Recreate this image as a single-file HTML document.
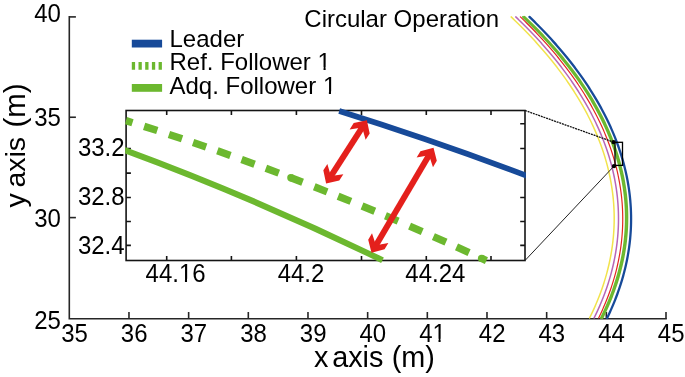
<!DOCTYPE html>
<html><head><meta charset="utf-8"><title>Circular Operation</title>
<style>html,body{margin:0;padding:0;background:#fff;}body{width:685px;height:377px;overflow:hidden;position:relative;}</style>
</head><body>
<svg width="685" height="377" viewBox="0 0 685 377" style="position:absolute;left:0;top:0">
<defs>
<clipPath id="cm"><rect x="0" y="0" width="685" height="319.6"/></clipPath>
<clipPath id="ci"><rect x="125.19999999999999" y="0" width="400.7" height="377"/></clipPath>
</defs>
<rect width="100%" height="100%" fill="#fff"/>
<g stroke="#262626" stroke-width="1.6" fill="none">
<path d="M69.3,15.999999999999998 V318.8 H666.8"/>
<path d="M128.97,318.8 V312.0"/>
<path d="M188.64,318.8 V312.0"/>
<path d="M248.31,318.8 V312.0"/>
<path d="M307.98,318.8 V312.0"/>
<path d="M367.65,318.8 V312.0"/>
<path d="M427.32,318.8 V312.0"/>
<path d="M486.99,318.8 V312.0"/>
<path d="M546.66,318.8 V312.0"/>
<path d="M606.33,318.8 V312.0"/>
<path d="M666.00,318.8 V312.0"/>
<path d="M69.3,16.90 H75.9"/>
<path d="M69.3,117.25 H75.9"/>
<path d="M69.3,217.60 H75.9"/>
</g>
<g clip-path="url(#cm)" fill="none" stroke-linecap="round">
<path d="M511.16,16.90 L512.74,18.41 L514.32,19.93 L515.88,21.44 L517.43,22.95 L518.96,24.46 L520.48,25.98 L521.99,27.49 L523.48,29.00 L524.96,30.52 L526.43,32.03 L527.89,33.54 L529.33,35.05 L530.76,36.57 L532.17,38.08 L533.58,39.59 L534.96,41.11 L536.34,42.62 L537.71,44.13 L539.06,45.64 L540.39,47.16 L541.72,48.67 L543.03,50.18 L544.33,51.69 L545.62,53.21 L546.89,54.72 L548.16,56.23 L549.41,57.75 L550.64,59.26 L551.87,60.77 L553.08,62.28 L554.28,63.80 L555.46,65.31 L556.64,66.82 L557.80,68.34 L558.95,69.85 L560.09,71.36 L561.21,72.87 L562.32,74.39 L563.42,75.90 L564.51,77.41 L565.58,78.93 L566.65,80.44 L567.70,81.95 L568.74,83.46 L569.76,84.98 L570.78,86.49 L571.78,88.00 L572.77,89.52 L573.75,91.03 L574.71,92.54 L575.67,94.05 L576.61,95.57 L577.54,97.08 L578.46,98.59 L579.36,100.10 L580.25,101.62 L581.14,103.13 L582.01,104.64 L582.86,106.16 L583.71,107.67 L584.54,109.18 L585.37,110.69 L586.18,112.21 L586.98,113.72 L587.76,115.23 L588.54,116.75 L589.30,118.26 L590.05,119.77 L590.79,121.28 L591.52,122.80 L592.24,124.31 L592.94,125.82 L593.63,127.34 L594.31,128.85 L594.98,130.36 L595.64,131.87 L596.29,133.39 L596.92,134.90 L597.55,136.41 L598.16,137.93 L598.76,139.44 L599.35,140.95 L599.92,142.46 L600.49,143.98 L601.04,145.49 L601.58,147.00 L602.11,148.51 L602.63,150.03 L603.14,151.54 L603.64,153.05 L604.12,154.57 L604.59,156.08 L605.05,157.59 L605.50,159.10 L605.94,160.62 L606.37,162.13 L606.79,163.64 L607.19,165.16 L607.58,166.67 L607.97,168.18 L608.34,169.69 L608.69,171.21 L609.04,172.72 L609.38,174.23 L609.70,175.75 L610.02,177.26 L610.32,178.77 L610.61,180.28 L610.89,181.80 L611.16,183.31 L611.41,184.82 L611.66,186.34 L611.89,187.85 L612.11,189.36 L612.32,190.87 L612.52,192.39 L612.71,193.90 L612.89,195.41 L613.06,196.92 L613.21,198.44 L613.35,199.95 L613.49,201.46 L613.61,202.98 L613.72,204.49 L613.81,206.00 L613.90,207.51 L613.98,209.03 L614.04,210.54 L614.09,212.05 L614.14,213.57 L614.17,215.08 L614.19,216.59 L614.19,218.10 L614.19,219.62 L614.18,221.13 L614.15,222.64 L614.11,224.16 L614.06,225.67 L614.01,227.18 L613.93,228.69 L613.85,230.21 L613.76,231.72 L613.65,233.23 L613.54,234.75 L613.41,236.26 L613.27,237.77 L613.12,239.28 L612.96,240.80 L612.79,242.31 L612.60,243.82 L612.41,245.33 L612.20,246.85 L611.98,248.36 L611.75,249.87 L611.51,251.39 L611.26,252.90 L611.00,254.41 L610.72,255.92 L610.44,257.44 L610.14,258.95 L609.83,260.46 L609.51,261.98 L609.18,263.49 L608.84,265.00 L608.48,266.51 L608.12,268.03 L607.74,269.54 L607.35,271.05 L606.95,272.57 L606.54,274.08 L606.12,275.59 L605.68,277.10 L605.24,278.62 L604.78,280.13 L604.31,281.64 L603.83,283.16 L603.34,284.67 L602.84,286.18 L602.33,287.69 L601.80,289.21 L601.26,290.72 L600.71,292.23 L600.15,293.74 L599.58,295.26 L599.00,296.77 L598.40,298.28 L597.80,299.80 L597.18,301.31 L596.55,302.82 L595.91,304.33 L595.25,305.85 L594.59,307.36 L593.91,308.87 L593.22,310.39 L592.52,311.90 L591.81,313.41 L591.09,314.92 L590.36,316.44 L589.61,317.95" stroke="#f2e34c" stroke-width="1.5"/>
<path d="M515.79,16.90 L517.37,18.41 L518.94,19.93 L520.49,21.44 L522.03,22.95 L523.56,24.46 L525.07,25.98 L526.57,27.49 L528.06,29.00 L529.53,30.52 L531.00,32.03 L532.44,33.54 L533.88,35.05 L535.30,36.57 L536.71,38.08 L538.11,39.59 L539.49,41.11 L540.86,42.62 L542.22,44.13 L543.57,45.64 L544.90,47.16 L546.22,48.67 L547.53,50.18 L548.82,51.69 L550.10,53.21 L551.37,54.72 L552.63,56.23 L553.87,57.75 L555.11,59.26 L556.32,60.77 L557.53,62.28 L558.73,63.80 L559.91,65.31 L561.08,66.82 L562.23,68.34 L563.38,69.85 L564.51,71.36 L565.63,72.87 L566.74,74.39 L567.84,75.90 L568.92,77.41 L569.99,78.93 L571.05,80.44 L572.10,81.95 L573.13,83.46 L574.15,84.98 L575.16,86.49 L576.16,88.00 L577.15,89.52 L578.12,91.03 L579.08,92.54 L580.03,94.05 L580.97,95.57 L581.90,97.08 L582.81,98.59 L583.72,100.10 L584.61,101.62 L585.49,103.13 L586.35,104.64 L587.21,106.16 L588.05,107.67 L588.88,109.18 L589.70,110.69 L590.51,112.21 L591.31,113.72 L592.09,115.23 L592.86,116.75 L593.62,118.26 L594.37,119.77 L595.11,121.28 L595.84,122.80 L596.55,124.31 L597.25,125.82 L597.94,127.34 L598.62,128.85 L599.29,130.36 L599.95,131.87 L600.59,133.39 L601.22,134.90 L601.84,136.41 L602.45,137.93 L603.05,139.44 L603.64,140.95 L604.21,142.46 L604.78,143.98 L605.33,145.49 L605.87,147.00 L606.40,148.51 L606.92,150.03 L607.43,151.54 L607.92,153.05 L608.40,154.57 L608.88,156.08 L609.34,157.59 L609.79,159.10 L610.22,160.62 L610.65,162.13 L611.07,163.64 L611.47,165.16 L611.86,166.67 L612.24,168.18 L612.61,169.69 L612.97,171.21 L613.32,172.72 L613.65,174.23 L613.98,175.75 L614.29,177.26 L614.59,178.77 L614.88,180.28 L615.16,181.80 L615.43,183.31 L615.69,184.82 L615.93,186.34 L616.17,187.85 L616.39,189.36 L616.60,190.87 L616.80,192.39 L616.99,193.90 L617.17,195.41 L617.34,196.92 L617.49,198.44 L617.64,199.95 L617.77,201.46 L617.89,202.98 L618.00,204.49 L618.10,206.00 L618.19,207.51 L618.27,209.03 L618.33,210.54 L618.39,212.05 L618.43,213.57 L618.46,215.08 L618.48,216.59 L618.49,218.10 L618.49,219.62 L618.48,221.13 L618.45,222.64 L618.42,224.16 L618.37,225.67 L618.31,227.18 L618.24,228.69 L618.16,230.21 L618.07,231.72 L617.97,233.23 L617.85,234.75 L617.73,236.26 L617.59,237.77 L617.44,239.28 L617.28,240.80 L617.11,242.31 L616.93,243.82 L616.74,245.33 L616.53,246.85 L616.32,248.36 L616.09,249.87 L615.85,251.39 L615.61,252.90 L615.35,254.41 L615.07,255.92 L614.79,257.44 L614.50,258.95 L614.19,260.46 L613.87,261.98 L613.55,263.49 L613.21,265.00 L612.85,266.51 L612.49,268.03 L612.12,269.54 L611.73,271.05 L611.34,272.57 L610.93,274.08 L610.51,275.59 L610.08,277.10 L609.64,278.62 L609.19,280.13 L608.72,281.64 L608.25,283.16 L607.76,284.67 L607.26,286.18 L606.75,287.69 L606.23,289.21 L605.69,290.72 L605.15,292.23 L604.59,293.74 L604.03,295.26 L603.45,296.77 L602.86,298.28 L602.26,299.80 L601.64,301.31 L601.02,302.82 L600.38,304.33 L599.73,305.85 L599.07,307.36 L598.40,308.87 L597.72,310.39 L597.02,311.90 L596.32,313.41 L595.60,314.92 L594.87,316.44 L594.13,317.95" stroke="#b766b7" stroke-width="1.5"/>
<path d="M520.40,16.90 L521.97,18.41 L523.53,19.93 L525.07,21.44 L526.61,22.95 L528.13,24.46 L529.63,25.98 L531.13,27.49 L532.61,29.00 L534.07,30.52 L535.53,32.03 L536.97,33.54 L538.40,35.05 L539.81,36.57 L541.22,38.08 L542.61,39.59 L543.98,41.11 L545.35,42.62 L546.70,44.13 L548.04,45.64 L549.37,47.16 L550.68,48.67 L551.98,50.18 L553.27,51.69 L554.54,53.21 L555.81,54.72 L557.06,56.23 L558.30,57.75 L559.52,59.26 L560.74,60.77 L561.94,62.28 L563.13,63.80 L564.30,65.31 L565.47,66.82 L566.62,68.34 L567.76,69.85 L568.89,71.36 L570.00,72.87 L571.11,74.39 L572.20,75.90 L573.28,77.41 L574.34,78.93 L575.40,80.44 L576.44,81.95 L577.47,83.46 L578.49,84.98 L579.49,86.49 L580.49,88.00 L581.47,89.52 L582.44,91.03 L583.40,92.54 L584.35,94.05 L585.28,95.57 L586.20,97.08 L587.11,98.59 L588.01,100.10 L588.90,101.62 L589.78,103.13 L590.64,104.64 L591.49,106.16 L592.33,107.67 L593.16,109.18 L593.98,110.69 L594.78,112.21 L595.58,113.72 L596.36,115.23 L597.13,116.75 L597.89,118.26 L598.63,119.77 L599.37,121.28 L600.09,122.80 L600.80,124.31 L601.50,125.82 L602.19,127.34 L602.87,128.85 L603.53,130.36 L604.19,131.87 L604.83,133.39 L605.46,134.90 L606.08,136.41 L606.69,137.93 L607.29,139.44 L607.87,140.95 L608.44,142.46 L609.01,143.98 L609.56,145.49 L610.10,147.00 L610.63,148.51 L611.14,150.03 L611.65,151.54 L612.14,153.05 L612.62,154.57 L613.10,156.08 L613.56,157.59 L614.00,159.10 L614.44,160.62 L614.87,162.13 L615.28,163.64 L615.69,165.16 L616.08,166.67 L616.46,168.18 L616.83,169.69 L617.19,171.21 L617.53,172.72 L617.87,174.23 L618.19,175.75 L618.51,177.26 L618.81,178.77 L619.10,180.28 L619.38,181.80 L619.65,183.31 L619.91,184.82 L620.15,186.34 L620.39,187.85 L620.61,189.36 L620.82,190.87 L621.02,192.39 L621.21,193.90 L621.39,195.41 L621.56,196.92 L621.72,198.44 L621.86,199.95 L621.99,201.46 L622.12,202.98 L622.23,204.49 L622.33,206.00 L622.42,207.51 L622.50,209.03 L622.56,210.54 L622.62,212.05 L622.66,213.57 L622.70,215.08 L622.72,216.59 L622.73,218.10 L622.73,219.62 L622.72,221.13 L622.70,222.64 L622.67,224.16 L622.62,225.67 L622.56,227.18 L622.50,228.69 L622.42,230.21 L622.33,231.72 L622.23,233.23 L622.12,234.75 L622.00,236.26 L621.86,237.77 L621.72,239.28 L621.56,240.80 L621.39,242.31 L621.21,243.82 L621.02,245.33 L620.82,246.85 L620.61,248.36 L620.39,249.87 L620.15,251.39 L619.91,252.90 L619.65,254.41 L619.38,255.92 L619.10,257.44 L618.81,258.95 L618.51,260.46 L618.20,261.98 L617.87,263.49 L617.54,265.00 L617.19,266.51 L616.83,268.03 L616.46,269.54 L616.08,271.05 L615.69,272.57 L615.29,274.08 L614.87,275.59 L614.45,277.10 L614.01,278.62 L613.56,280.13 L613.10,281.64 L612.63,283.16 L612.15,284.67 L611.65,286.18 L611.15,287.69 L610.63,289.21 L610.10,290.72 L609.56,292.23 L609.01,293.74 L608.45,295.26 L607.88,296.77 L607.29,298.28 L606.70,299.80 L606.09,301.31 L605.47,302.82 L604.84,304.33 L604.19,305.85 L603.54,307.36 L602.87,308.87 L602.20,310.39 L601.51,311.90 L600.81,313.41 L600.10,314.92 L599.37,316.44 L598.64,317.95" stroke="#e5251f" stroke-width="1.2"/>
<path d="M523.06,16.90 L524.65,18.41 L526.22,19.93 L527.78,21.44 L529.33,22.95 L530.87,24.46 L532.39,25.98 L533.90,27.49 L535.39,29.00 L536.88,30.52 L538.34,32.03 L539.80,33.54 L541.24,35.05 L542.67,36.57 L544.09,38.08 L545.49,39.59 L546.88,41.11 L548.26,42.62 L549.62,44.13 L550.98,45.64 L552.31,47.16 L553.64,48.67 L554.95,50.18 L556.25,51.69 L557.54,53.21 L558.82,54.72 L560.08,56.23 L561.33,57.75 L562.56,59.26 L563.79,60.77 L565.00,62.28 L566.20,63.80 L567.39,65.31 L568.56,66.82 L569.72,68.34 L570.87,69.85 L572.01,71.36 L573.13,72.87 L574.24,74.39 L575.34,75.90 L576.43,77.41 L577.50,78.93 L578.57,80.44 L579.62,81.95 L580.65,83.46 L581.68,84.98 L582.69,86.49 L583.69,88.00 L584.68,89.52 L585.66,91.03 L586.63,92.54 L587.58,94.05 L588.52,95.57 L589.45,97.08 L590.36,98.59 L591.27,100.10 L592.16,101.62 L593.04,103.13 L593.91,104.64 L594.77,106.16 L595.61,107.67 L596.44,109.18 L597.26,110.69 L598.07,112.21 L598.87,113.72 L599.66,115.23 L600.43,116.75 L601.19,118.26 L601.94,119.77 L602.68,121.28 L603.41,122.80 L604.12,124.31 L604.82,125.82 L605.51,127.34 L606.19,128.85 L606.86,130.36 L607.52,131.87 L608.16,133.39 L608.79,134.90 L609.41,136.41 L610.02,137.93 L610.62,139.44 L611.21,140.95 L611.78,142.46 L612.34,143.98 L612.90,145.49 L613.43,147.00 L613.96,148.51 L614.48,150.03 L614.98,151.54 L615.48,153.05 L615.96,154.57 L616.43,156.08 L616.89,157.59 L617.34,159.10 L617.77,160.62 L618.20,162.13 L618.61,163.64 L619.01,165.16 L619.40,166.67 L619.78,168.18 L620.15,169.69 L620.50,171.21 L620.85,172.72 L621.18,174.23 L621.50,175.75 L621.81,177.26 L622.11,178.77 L622.40,180.28 L622.67,181.80 L622.94,183.31 L623.19,184.82 L623.43,186.34 L623.66,187.85 L623.88,189.36 L624.09,190.87 L624.29,192.39 L624.47,193.90 L624.65,195.41 L624.81,196.92 L624.96,198.44 L625.10,199.95 L625.23,201.46 L625.34,202.98 L625.45,204.49 L625.54,206.00 L625.63,207.51 L625.70,209.03 L625.76,210.54 L625.81,212.05 L625.84,213.57 L625.87,215.08 L625.89,216.59 L625.89,218.10 L625.88,219.62 L625.86,221.13 L625.83,222.64 L625.79,224.16 L625.74,225.67 L625.67,227.18 L625.60,228.69 L625.51,230.21 L625.41,231.72 L625.30,233.23 L625.18,234.75 L625.05,236.26 L624.91,237.77 L624.75,239.28 L624.59,240.80 L624.41,242.31 L624.22,243.82 L624.02,245.33 L623.81,246.85 L623.58,248.36 L623.35,249.87 L623.10,251.39 L622.85,252.90 L622.58,254.41 L622.30,255.92 L622.01,257.44 L621.70,258.95 L621.39,260.46 L621.06,261.98 L620.73,263.49 L620.38,265.00 L620.02,266.51 L619.65,268.03 L619.27,269.54 L618.87,271.05 L618.47,272.57 L618.05,274.08 L617.62,275.59 L617.18,277.10 L616.73,278.62 L616.27,280.13 L615.79,281.64 L615.30,283.16 L614.81,284.67 L614.30,286.18 L613.78,287.69 L613.25,289.21 L612.70,290.72 L612.15,292.23 L611.58,293.74 L611.00,295.26 L610.41,296.77 L609.81,298.28 L609.20,299.80 L608.57,301.31 L607.93,302.82 L607.29,304.33 L606.63,305.85 L605.95,307.36 L605.27,308.87 L604.58,310.39 L603.87,311.90 L603.15,313.41 L602.42,314.92 L601.68,316.44 L600.92,317.95" stroke="#6cb82f" stroke-width="2.0"/>
<path d="M524.58,16.90 L526.16,18.41 L527.74,19.93 L529.30,21.44 L530.85,22.95 L532.38,24.46 L533.90,25.98 L535.41,27.49 L536.90,29.00 L538.38,30.52 L539.85,32.03 L541.30,33.54 L542.75,35.05 L544.17,36.57 L545.59,38.08 L546.99,39.59 L548.38,41.11 L549.76,42.62 L551.12,44.13 L552.47,45.64 L553.81,47.16 L555.13,48.67 L556.44,50.18 L557.74,51.69 L559.03,53.21 L560.30,54.72 L561.56,56.23 L562.81,57.75 L564.05,59.26 L565.27,60.77 L566.48,62.28 L567.68,63.80 L568.87,65.31 L570.04,66.82 L571.20,68.34 L572.35,69.85 L573.48,71.36 L574.61,72.87 L575.72,74.39 L576.82,75.90 L577.90,77.41 L578.98,78.93 L580.04,80.44 L581.09,81.95 L582.12,83.46 L583.15,84.98 L584.16,86.49 L585.16,88.00 L586.15,89.52 L587.13,91.03 L588.09,92.54 L589.04,94.05 L589.98,95.57 L590.91,97.08 L591.82,98.59 L592.73,100.10 L593.62,101.62 L594.50,103.13 L595.37,104.64 L596.22,106.16 L597.07,107.67 L597.90,109.18 L598.72,110.69 L599.53,112.21 L600.33,113.72 L601.11,115.23 L601.88,116.75 L602.64,118.26 L603.39,119.77 L604.13,121.28 L604.86,122.80 L605.57,124.31 L606.27,125.82 L606.96,127.34 L607.64,128.85 L608.31,130.36 L608.96,131.87 L609.61,133.39 L610.24,134.90 L610.86,136.41 L611.47,137.93 L612.07,139.44 L612.65,140.95 L613.22,142.46 L613.79,143.98 L614.34,145.49 L614.88,147.00 L615.40,148.51 L615.92,150.03 L616.43,151.54 L616.92,153.05 L617.40,154.57 L617.87,156.08 L618.33,157.59 L618.78,159.10 L619.21,160.62 L619.64,162.13 L620.05,163.64 L620.45,165.16 L620.84,166.67 L621.22,168.18 L621.58,169.69 L621.94,171.21 L622.28,172.72 L622.62,174.23 L622.94,175.75 L623.25,177.26 L623.55,178.77 L623.83,180.28 L624.11,181.80 L624.37,183.31 L624.63,184.82 L624.87,186.34 L625.10,187.85 L625.32,189.36 L625.52,190.87 L625.72,192.39 L625.91,193.90 L626.08,195.41 L626.24,196.92 L626.39,198.44 L626.53,199.95 L626.66,201.46 L626.78,202.98 L626.88,204.49 L626.98,206.00 L627.06,207.51 L627.13,209.03 L627.19,210.54 L627.24,212.05 L627.28,213.57 L627.30,215.08 L627.32,216.59 L627.32,218.10 L627.31,219.62 L627.30,221.13 L627.26,222.64 L627.22,224.16 L627.17,225.67 L627.11,227.18 L627.03,228.69 L626.94,230.21 L626.85,231.72 L626.74,233.23 L626.62,234.75 L626.48,236.26 L626.34,237.77 L626.18,239.28 L626.02,240.80 L625.84,242.31 L625.65,243.82 L625.45,245.33 L625.24,246.85 L625.02,248.36 L624.78,249.87 L624.54,251.39 L624.28,252.90 L624.01,254.41 L623.73,255.92 L623.44,257.44 L623.14,258.95 L622.83,260.46 L622.50,261.98 L622.16,263.49 L621.82,265.00 L621.46,266.51 L621.08,268.03 L620.70,269.54 L620.31,271.05 L619.90,272.57 L619.49,274.08 L619.06,275.59 L618.62,277.10 L618.17,278.62 L617.71,280.13 L617.23,281.64 L616.75,283.16 L616.25,284.67 L615.74,286.18 L615.22,287.69 L614.69,289.21 L614.14,290.72 L613.59,292.23 L613.02,293.74 L612.45,295.26 L611.86,296.77 L611.25,298.28 L610.64,299.80 L610.02,301.31 L609.38,302.82 L608.73,304.33 L608.07,305.85 L607.40,307.36 L606.72,308.87 L606.02,310.39 L605.32,311.90 L604.60,313.41 L603.87,314.92 L603.13,316.44 L602.38,317.95" stroke="#6cb82f" stroke-width="2.0"/>
<path d="M529.50,16.90 L531.06,18.41 L532.61,19.93 L534.15,21.44 L535.67,22.95 L537.17,24.46 L538.67,25.98 L540.15,27.49 L541.62,29.00 L543.08,30.52 L544.52,32.03 L545.95,33.54 L547.37,35.05 L548.77,36.57 L550.17,38.08 L551.55,39.59 L552.91,41.11 L554.27,42.62 L555.61,44.13 L556.94,45.64 L558.25,47.16 L559.56,48.67 L560.85,50.18 L562.13,51.69 L563.39,53.21 L564.65,54.72 L565.89,56.23 L567.12,57.75 L568.34,59.26 L569.54,60.77 L570.73,62.28 L571.91,63.80 L573.08,65.31 L574.24,66.82 L575.38,68.34 L576.51,69.85 L577.63,71.36 L578.74,72.87 L579.83,74.39 L580.92,75.90 L581.99,77.41 L583.05,78.93 L584.09,80.44 L585.13,81.95 L586.15,83.46 L587.16,84.98 L588.16,86.49 L589.15,88.00 L590.12,89.52 L591.09,91.03 L592.04,92.54 L592.98,94.05 L593.91,95.57 L594.82,97.08 L595.73,98.59 L596.62,100.10 L597.50,101.62 L598.37,103.13 L599.23,104.64 L600.07,106.16 L600.91,107.67 L601.73,109.18 L602.54,110.69 L603.34,112.21 L604.13,113.72 L604.90,115.23 L605.67,116.75 L606.42,118.26 L607.16,119.77 L607.89,121.28 L608.61,122.80 L609.32,124.31 L610.01,125.82 L610.69,127.34 L611.37,128.85 L612.03,130.36 L612.68,131.87 L613.31,133.39 L613.94,134.90 L614.56,136.41 L615.16,137.93 L615.75,139.44 L616.33,140.95 L616.90,142.46 L617.46,143.98 L618.01,145.49 L618.54,147.00 L619.07,148.51 L619.58,150.03 L620.08,151.54 L620.57,153.05 L621.05,154.57 L621.52,156.08 L621.98,157.59 L622.42,159.10 L622.86,160.62 L623.28,162.13 L623.69,163.64 L624.09,165.16 L624.48,166.67 L624.86,168.18 L625.23,169.69 L625.58,171.21 L625.93,172.72 L626.26,174.23 L626.58,175.75 L626.89,177.26 L627.19,178.77 L627.48,180.28 L627.76,181.80 L628.02,183.31 L628.28,184.82 L628.52,186.34 L628.76,187.85 L628.98,189.36 L629.19,190.87 L629.39,192.39 L629.58,193.90 L629.75,195.41 L629.92,196.92 L630.07,198.44 L630.22,199.95 L630.35,201.46 L630.47,202.98 L630.58,204.49 L630.68,206.00 L630.77,207.51 L630.85,209.03 L630.91,210.54 L630.97,212.05 L631.01,213.57 L631.05,215.08 L631.07,216.59 L631.08,218.10 L631.08,219.62 L631.07,221.13 L631.05,222.64 L631.01,224.16 L630.97,225.67 L630.91,227.18 L630.85,228.69 L630.77,230.21 L630.68,231.72 L630.58,233.23 L630.47,234.75 L630.35,236.26 L630.21,237.77 L630.07,239.28 L629.91,240.80 L629.75,242.31 L629.57,243.82 L629.38,245.33 L629.18,246.85 L628.97,248.36 L628.75,249.87 L628.51,251.39 L628.27,252.90 L628.01,254.41 L627.75,255.92 L627.47,257.44 L627.18,258.95 L626.88,260.46 L626.57,261.98 L626.24,263.49 L625.91,265.00 L625.57,266.51 L625.21,268.03 L624.84,269.54 L624.46,271.05 L624.07,272.57 L623.67,274.08 L623.26,275.59 L622.84,277.10 L622.40,278.62 L621.96,280.13 L621.50,281.64 L621.03,283.16 L620.55,284.67 L620.06,286.18 L619.56,287.69 L619.05,289.21 L618.52,290.72 L617.98,292.23 L617.44,293.74 L616.88,295.26 L616.31,296.77 L615.73,298.28 L615.13,299.80 L614.53,301.31 L613.91,302.82 L613.29,304.33 L612.65,305.85 L612.00,307.36 L611.34,308.87 L610.67,310.39 L609.98,311.90 L609.29,313.41 L608.58,314.92 L607.86,316.44 L607.13,317.95" stroke="#174a99" stroke-width="2.3"/>
</g>
<g fill="#000">
<g transform="translate(74.50,342.00) scale(1,1.055)"><text font-family="'Liberation Sans', Arial, Helvetica, sans-serif" font-size="24" text-anchor="middle">35</text></g>
<g transform="translate(134.17,342.00) scale(1,1.055)"><text font-family="'Liberation Sans', Arial, Helvetica, sans-serif" font-size="24" text-anchor="middle">36</text></g>
<g transform="translate(193.84,342.00) scale(1,1.055)"><text font-family="'Liberation Sans', Arial, Helvetica, sans-serif" font-size="24" text-anchor="middle">37</text></g>
<g transform="translate(253.51,342.00) scale(1,1.055)"><text font-family="'Liberation Sans', Arial, Helvetica, sans-serif" font-size="24" text-anchor="middle">38</text></g>
<g transform="translate(313.18,342.00) scale(1,1.055)"><text font-family="'Liberation Sans', Arial, Helvetica, sans-serif" font-size="24" text-anchor="middle">39</text></g>
<g transform="translate(372.85,342.00) scale(1,1.055)"><text font-family="'Liberation Sans', Arial, Helvetica, sans-serif" font-size="24" text-anchor="middle">40</text></g>
<g transform="translate(432.52,342.00) scale(1,1.055)"><text font-family="'Liberation Sans', Arial, Helvetica, sans-serif" font-size="24" text-anchor="middle">41</text><path d="M0.89,-3.00H5.99V1.40H0.89z M8.09,-3.00H12.99V1.40H8.09z" fill="#fff"/></g>
<g transform="translate(492.19,342.00) scale(1,1.055)"><text font-family="'Liberation Sans', Arial, Helvetica, sans-serif" font-size="24" text-anchor="middle">42</text></g>
<g transform="translate(551.86,342.00) scale(1,1.055)"><text font-family="'Liberation Sans', Arial, Helvetica, sans-serif" font-size="24" text-anchor="middle">43</text></g>
<g transform="translate(611.53,342.00) scale(1,1.055)"><text font-family="'Liberation Sans', Arial, Helvetica, sans-serif" font-size="24" text-anchor="middle">44</text></g>
<g transform="translate(671.20,342.00) scale(1,1.055)"><text font-family="'Liberation Sans', Arial, Helvetica, sans-serif" font-size="24" text-anchor="middle">45</text></g>
<g transform="translate(60.90,22.20) scale(1,1.045)"><text font-family="'Liberation Sans', Arial, Helvetica, sans-serif" font-size="24" text-anchor="end">40</text></g>
<g transform="translate(60.90,125.90) scale(1,1.045)"><text font-family="'Liberation Sans', Arial, Helvetica, sans-serif" font-size="24" text-anchor="end">35</text></g>
<g transform="translate(60.90,226.80) scale(1,1.045)"><text font-family="'Liberation Sans', Arial, Helvetica, sans-serif" font-size="24" text-anchor="end">30</text></g>
<g transform="translate(60.90,329.10) scale(1,1.045)"><text font-family="'Liberation Sans', Arial, Helvetica, sans-serif" font-size="24" text-anchor="end">25</text></g>
</g>
<g fill="#000">
<g transform="translate(314.00,367.10) scale(1,1.0)"><text font-family="'Liberation Sans', Arial, Helvetica, sans-serif" font-size="28.8">x</text></g>
<g transform="translate(332.20,367.10) scale(1,1.0)"><text font-family="'Liberation Sans', Arial, Helvetica, sans-serif" font-size="28.8">axis</text></g>
<g transform="translate(391.70,367.10) scale(1,1.0)"><text font-family="'Liberation Sans', Arial, Helvetica, sans-serif" font-size="28.8">(m)</text></g>
<text transform="translate(25.3,207.5) rotate(-90)" font-family="'Liberation Sans', Arial, Helvetica, sans-serif" font-size="28.5">y</text>
<text transform="translate(25.3,187.6) rotate(-90)" font-family="'Liberation Sans', Arial, Helvetica, sans-serif" font-size="28.5">axis</text>
<text transform="translate(25.3,127.6) rotate(-90)" font-family="'Liberation Sans', Arial, Helvetica, sans-serif" font-size="29.5">(m)</text>
<g transform="translate(304.30,27.10) scale(1,1.02)"><text font-family="'Liberation Sans', Arial, Helvetica, sans-serif" font-size="24">Circular Operation</text></g>
</g>
<path d="M131.8,43.6 H162.1" stroke="#174a99" stroke-width="7.8"/>
<path d="M131.8,65.9 H162.1" stroke="#6cb82f" stroke-width="7.8" stroke-dasharray="3.3 3.4"/>
<path d="M131.8,87.9 H162.1" stroke="#6cb82f" stroke-width="7.8"/>
<g fill="#000">
<g transform="translate(169.50,47.00) scale(1,1.03)"><text font-family="'Liberation Sans', Arial, Helvetica, sans-serif" font-size="24">Leader</text></g>
<g transform="translate(169.50,70.30) scale(1,1.03)"><text font-family="'Liberation Sans', Arial, Helvetica, sans-serif" font-size="24">Ref. Follower 1</text><path d="M148.93,-3.00H154.03V1.40H148.93z M156.13,-3.00H161.03V1.40H156.13z" fill="#fff"/></g>
<g transform="translate(169.50,94.30) scale(1,1.03)"><text font-family="'Liberation Sans', Arial, Helvetica, sans-serif" font-size="24">Adq. Follower 1</text><path d="M154.29,-3.00H159.39V1.40H154.29z M161.49,-3.00H166.39V1.40H161.49z" fill="#fff"/></g>
</g>
<path d="M525.0,110.5 L613.6,142.1" stroke="#111" stroke-width="1.3" stroke-dasharray="2 0.8" fill="none"/>
<path d="M525.0,260.5 L614,166.1" stroke="#222" stroke-width="1" fill="none"/>
<rect x="615" y="142.3" width="7.5" height="23.1" fill="none" stroke="#000" stroke-width="1.3"/>
<circle cx="613.6" cy="142.1" r="2.2" fill="#000"/>
<circle cx="614" cy="166.1" r="2.2" fill="#000"/>
<rect x="126.1" y="110.5" width="398.9" height="150.0" fill="#fff"/>
<g stroke="#141414" stroke-width="1.6" fill="none">
<rect x="126.1" y="110.5" width="398.9" height="150.0"/>
<path d="M166.7,260.5 v-4.5 M166.7,110.5 v4.5"/>
<path d="M231.4,260.5 v-4.5 M231.4,110.5 v4.5"/>
<path d="M296.4,260.5 v-4.5 M296.4,110.5 v4.5"/>
<path d="M361.5,260.5 v-4.5 M361.5,110.5 v4.5"/>
<path d="M426.3,260.5 v-4.5 M426.3,110.5 v4.5"/>
<path d="M491.0,260.5 v-4.5 M491.0,110.5 v4.5"/>
<path d="M126.1,123.7 h4.8 M525.0,123.7 h-4.8"/>
<path d="M126.1,148.5 h4.8 M525.0,148.5 h-4.8"/>
<path d="M126.1,173.1 h4.8 M525.0,173.1 h-4.8"/>
<path d="M126.1,197.5 h4.8 M525.0,197.5 h-4.8"/>
<path d="M126.1,221.5 h4.8 M525.0,221.5 h-4.8"/>
<path d="M126.1,245.4 h4.8 M525.0,245.4 h-4.8"/>
</g>
<g clip-path="url(#ci)" fill="none">
<path d="M339.20,110.99 Q434.60,140.81 530.00,176.97" stroke="#174a99" stroke-width="5.7"/>
<path d="M118.00,147.68 Q250.25,195.98 382.50,260.23" stroke="#6cb82f" stroke-width="6.1"/>
<circle cx="290.9" cy="177.75" r="3.7" fill="#6cb82f"/>
<path d="M144.13,126.36 Q150.70,128.45 157.27,130.58 M168.95,134.40 Q175.50,136.55 182.05,138.75 M193.07,142.46 Q199.60,144.68 206.13,146.94 M217.39,150.85 Q223.90,153.13 230.41,155.45 M241.61,159.46 Q248.10,161.80 254.59,164.17 M265.84,168.32 Q272.30,170.72 278.76,173.15 M314.28,186.80 Q320.70,189.31 327.12,191.86 M338.10,196.25 Q344.50,198.82 350.90,201.43 M362.03,205.99 Q368.40,208.62 374.77,211.29 M385.45,215.77 Q391.80,218.45 398.15,221.17 M409.57,226.09 Q415.90,228.83 422.23,231.60 M433.40,236.52 Q439.70,239.31 446.00,242.14 M456.52,246.88 Q462.80,249.73 469.08,252.61 M290.90,177.75 Q296.75,179.99 302.60,182.25 M125.90,120.62 Q129.20,121.64 132.50,122.68" stroke="#6cb82f" stroke-width="7.4"/>
<path d="M481.60,258.38 Q484.00,259.49 486.40,260.61" stroke="#6cb82f" stroke-width="7.4"/>
<circle cx="481.6" cy="258.38" r="3.7" fill="#6cb82f"/>
</g>
<g fill="#000">
<g transform="translate(124.60,156.40) scale(1,1.045)"><text font-family="'Liberation Sans', Arial, Helvetica, sans-serif" font-size="24" text-anchor="end">33.2</text></g>
<g transform="translate(124.60,205.10) scale(1,1.045)"><text font-family="'Liberation Sans', Arial, Helvetica, sans-serif" font-size="24" text-anchor="end">32.8</text></g>
<g transform="translate(124.60,253.50) scale(1,1.045)"><text font-family="'Liberation Sans', Arial, Helvetica, sans-serif" font-size="24" text-anchor="end">32.4</text></g>
<g transform="translate(175.60,282.00) scale(1,1.05)"><text font-family="'Liberation Sans', Arial, Helvetica, sans-serif" font-size="24" text-anchor="middle">44.16</text><path d="M4.23,-3.00H9.33V1.40H4.23z M11.43,-3.00H16.33V1.40H11.43z" fill="#fff"/></g>
<g transform="translate(301.00,282.00) scale(1,1.05)"><text font-family="'Liberation Sans', Arial, Helvetica, sans-serif" font-size="24" text-anchor="middle">44.2</text></g>
<g transform="translate(435.30,282.00) scale(1,1.05)"><text font-family="'Liberation Sans', Arial, Helvetica, sans-serif" font-size="24" text-anchor="middle">44.24</text></g>
</g>
<path d="M330.43,176.78 L362.57,126.92" stroke="#e4201c" stroke-width="6" fill="none"/>
<path d="M366.90,120.20 L369.68,133.42 L365.62,139.72 L362.13,127.60 L349.65,129.43 L353.71,123.12Z M326.10,183.50 L339.29,180.58 L343.35,174.27 L330.87,176.10 L327.38,163.98 L323.32,170.28Z" fill="#e4201c"/>
<path d="M375.56,245.91 L429.44,154.59" stroke="#e4201c" stroke-width="6" fill="none"/>
<path d="M433.50,147.70 L436.80,160.80 L432.99,167.26 L429.03,155.28 L416.63,157.60 L420.44,151.14Z M371.50,252.80 L384.56,249.36 L388.37,242.90 L375.97,245.22 L372.01,233.24 L368.20,239.70Z" fill="#e4201c"/>
</svg>
</body></html>
